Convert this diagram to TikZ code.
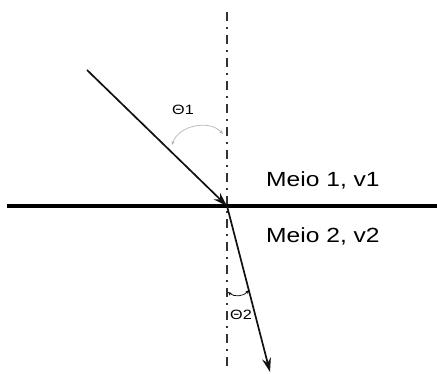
\documentclass[tikz,border=0pt]{standalone}
\usepackage{fontspec}
\setmainfont{Liberation Sans}[FakeStretch=1.2]
\usepackage{tikz}
\usetikzlibrary{positioning,calc,arrows.meta}
\definecolor{Ray}{HTML}{111111}
\definecolor{Normal}{HTML}{333333}
\definecolor{Angle}{HTML}{B5B5B5}

\tikzset{
	ray/.style={draw=Ray, line width=1.7pt, -{Stealth[length=14pt,width=9pt]}},
	normal/.style={draw=Normal, line width=1.3pt,
		dash pattern=on 9pt off 6pt on 2pt off 6pt},
	interface/.style={draw=black, line width=3.6pt},
	anglearc/.style={line width=0.7pt, {Stealth[length=4pt,width=3.5pt]}-{Stealth[length=4pt,width=3.5pt]}},
	medium/.style={font=\fontsize{20.5}{24}\selectfont, inner sep=0pt, anchor=base west},
	anglelabel/.style={font=\fontsize{13.5}{16}\selectfont, inner sep=0pt, anchor=base west}
}

\begin{document}
\begin{tikzpicture}[x=1pt,y=1pt]
	\useasboundingbox (0,0) rectangle (437,373);

	% punkty
	\coordinate (O) at (227,167);
	\coordinate (normaltop) at (227,361);
	\coordinate (normalbot) at (227,3);
	\coordinate (surfleft) at (7,167);
	\coordinate (surfright) at (437,167);
	\coordinate (incstart) at (87,303);
	\coordinate (refend) at (270,1);

	% linie
	\draw[normal] (normaltop) -- (normalbot);
	\draw[interface] (surfleft) -- (surfright);
	\draw[ray] (incstart) -- (O);
	\draw[ray] (O) -- (refend);

	% katy
	\coordinate (a1) at (223,239);
	\coordinate (b1) at (172,228);
	\draw[anglearc, draw=Angle, fill=none] (a1) to[bend right=60] (b1);
	\coordinate (a2) at (228,81);
	\coordinate (b2) at (249,83);
	\draw[anglearc, draw=black] (a2) to[bend right=45] (b2);

	\node[anglelabel] (theta1) at (172,258) {Θ1};
	\node[anglelabel] (theta2) at (230,54) {Θ2};

	% opisy osrodkow
	\node[medium] (meio1) at (266,186) {Meio 1, v1};
	\node[medium] (meio2) at (266,131) {Meio 2, v2};
\end{tikzpicture}
\end{document}
